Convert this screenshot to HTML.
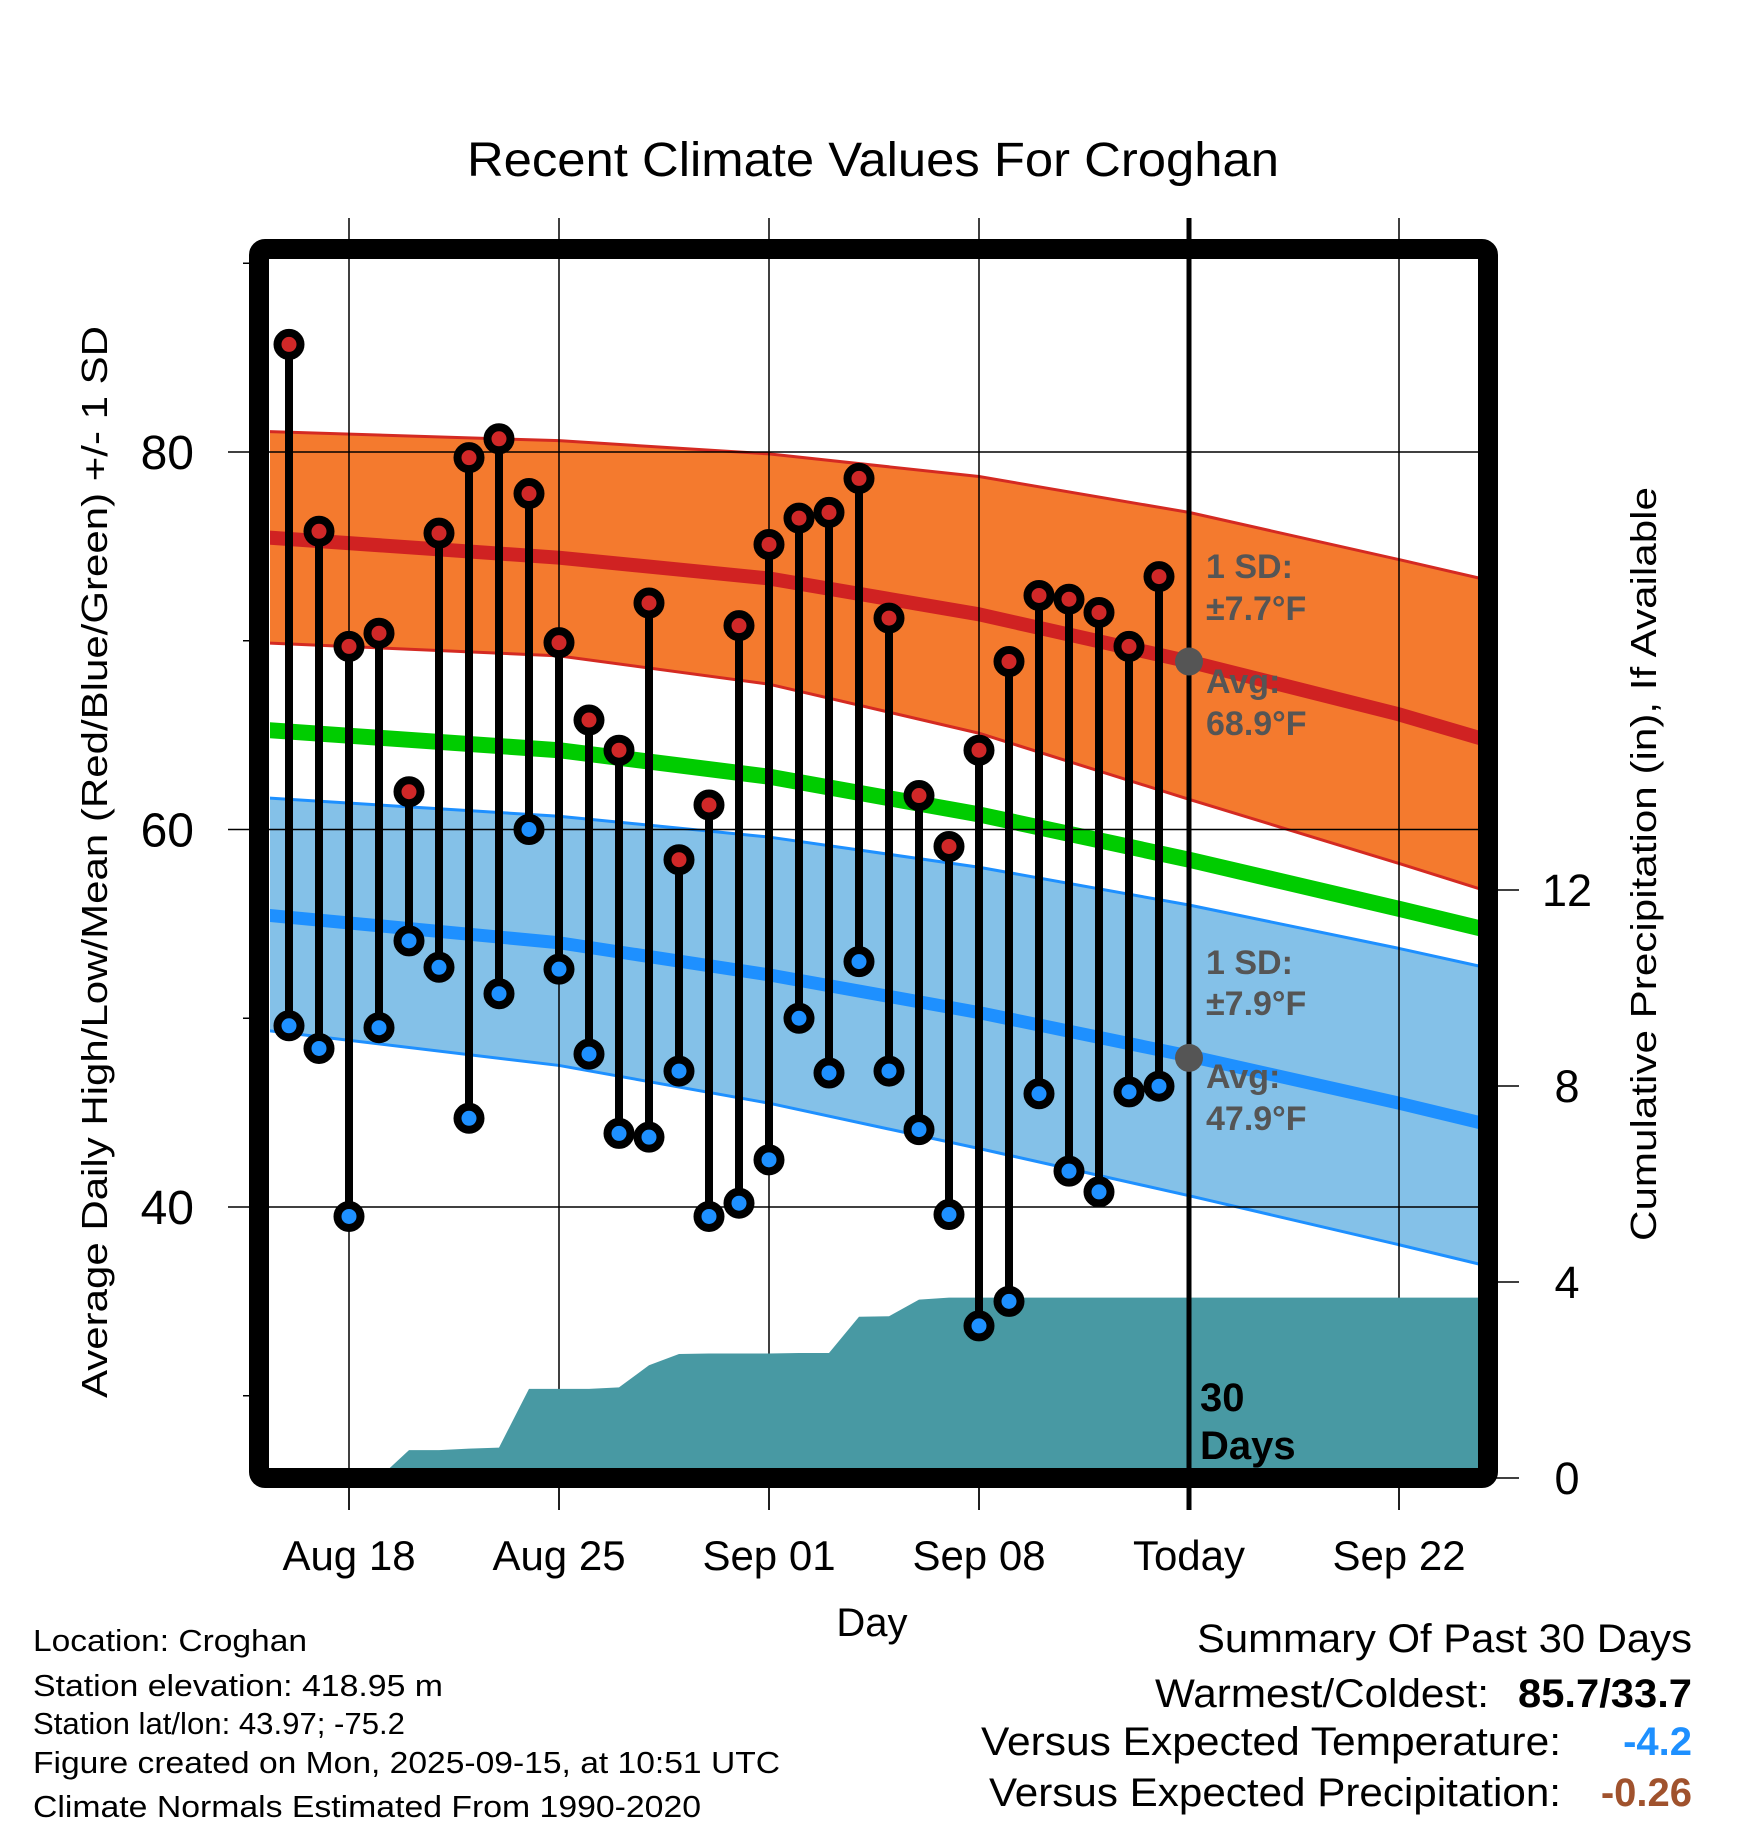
<!DOCTYPE html>
<html><head><meta charset="utf-8">
<style>
html,body{margin:0;padding:0;background:#fff;}
svg{display:block;font-family:"Liberation Sans",Arial,sans-serif;}
</style></head>
<body>
<svg id="chart" width="1748" height="1828" viewBox="0 0 1748 1828" xmlns="http://www.w3.org/2000/svg">
<defs><clipPath id="plotclip"><rect x="270" y="260" width="1208" height="1218"/></clipPath></defs>
<text x="873" y="176" font-size="48" text-anchor="middle" textLength="812" lengthAdjust="spacingAndGlyphs">Recent Climate Values For Croghan</text>
<g id="bands" clip-path="url(#plotclip)"></g>
<g id="axes"></g>
<g id="precipg" clip-path="url(#plotclip)"></g>
<g id="pts"></g>
<rect x="259" y="249" width="1229" height="1229" rx="6" fill="none" stroke="#000" stroke-width="20"/>
<text transform="translate(107,862) rotate(-90)" font-size="36" text-anchor="middle" textLength="1072" lengthAdjust="spacingAndGlyphs">Average Daily High/Low/Mean (Red/Blue/Green) +/- 1 SD</text>
<text transform="translate(1656,864) rotate(-90)" font-size="36" text-anchor="middle" textLength="754" lengthAdjust="spacingAndGlyphs">Cumulative Precipitation (in), If Available</text>
<text x="872" y="1636" font-size="40" text-anchor="middle">Day</text>
<g font-size="31">
<text x="33" y="1651" textLength="274" lengthAdjust="spacingAndGlyphs">Location: Croghan</text>
<text x="33" y="1696" textLength="410" lengthAdjust="spacingAndGlyphs">Station elevation: 418.95 m</text>
<text x="33" y="1734" textLength="372" lengthAdjust="spacingAndGlyphs">Station lat/lon: 43.97; -75.2</text>
<text x="33" y="1773" textLength="747" lengthAdjust="spacingAndGlyphs">Figure created on Mon, 2025-09-15, at 10:51 UTC</text>
<text x="33" y="1817" textLength="668" lengthAdjust="spacingAndGlyphs">Climate Normals Estimated From 1990-2020</text>
</g>
<g font-size="40">
<text x="1692" y="1652" text-anchor="end" textLength="495" lengthAdjust="spacingAndGlyphs">Summary Of Past 30 Days</text>
<text x="1489" y="1707" text-anchor="end" textLength="334" lengthAdjust="spacingAndGlyphs">Warmest/Coldest:</text>
<text x="1692" y="1707" text-anchor="end" font-weight="bold" textLength="174" lengthAdjust="spacingAndGlyphs">85.7/33.7</text>
<text x="1561" y="1755" text-anchor="end" textLength="580" lengthAdjust="spacingAndGlyphs">Versus Expected Temperature:</text>
<text x="1692" y="1755" text-anchor="end" font-weight="bold" fill="#1E90FF">-4.2</text>
<text x="1561" y="1806" text-anchor="end" textLength="572" lengthAdjust="spacingAndGlyphs">Versus Expected Precipitation:</text>
<text x="1692" y="1806" text-anchor="end" font-weight="bold" fill="#A0522D">-0.26</text>
</g>
</svg>
<script>
// ---- data ----
const days = [0,1,2,3,4,5,6,7,8,9,10,11,12,13,14,15,16,17,18,19,20,21,22,23,24,25,26,27,28,29];
const highs = [85.7,75.8,69.7,70.4,62.0,75.7,79.7,80.7,77.8,69.9,65.8,64.2,72.0,58.4,61.3,70.8,75.1,76.5,76.8,78.6,71.2,61.8,59.1,64.2,68.9,72.4,72.2,71.5,69.7,73.4];
const lows = [49.6,48.4,39.5,49.5,54.1,52.7,44.7,51.3,60.0,52.6,48.1,43.9,43.7,47.2,39.5,40.2,42.5,50.0,47.1,53.0,47.2,44.1,39.6,33.7,35.0,46.0,41.9,40.8,46.1,46.4];
const precip = [0,0,0,0,0.57,0.57,0.6,0.62,1.82,1.82,1.82,1.85,2.3,2.53,2.54,2.54,2.54,2.55,2.55,3.29,3.3,3.64,3.68,3.68,3.68,3.68,3.68,3.68,3.68,3.68];
const normDays = [-1,9,16,23,30,37,40];
const normHighMean = [75.5,74.4,73.3,71.4,68.9,66.1,64.7];
const normHighUpper = [81.1,80.6,79.9,78.7,76.8,74.3,73.2];
const normHighLower = [69.9,69.2,67.7,65.1,61.6,58.2,56.7];
const normLowMean = [55.5,54.0,52.3,50.3,48.0,45.5,44.35];
const normLowUpper = [61.7,60.7,59.6,58.0,56.0,53.7,52.65];
const normLowLower = [49.4,47.5,45.5,43.1,40.6,38.0,36.85];
const normMean = [65.3,64.2,62.8,60.8,58.4,55.8,54.65];
const xTickDays = [2,9,16,23,30,37];
const xTickLabels = ["Aug 18","Aug 25","Sep 01","Sep 08","Today","Sep 22"];
const yTicks = [80,60,40];
const yMinor = [90,70,50,30];
const pTicks = [0,4,8,12];
const todayIdx = 30;
const avgHighToday = 68.9, avgLowToday = 47.9;

// ---- scales ----
const X = d => 289 + 30*d;
const Y = t => 452 + (80 - t)*18.875;
const P = p => 1478 - 49*p;
const NS = "http://www.w3.org/2000/svg";
function mk(tag, attrs, parent){const e=document.createElementNS(NS,tag);for(const k in attrs)e.setAttribute(k,attrs[k]);parent.appendChild(e);return e;}
const bands=document.getElementById('bands'), axes=document.getElementById('axes'), pg=document.getElementById('precipg'), pts=document.getElementById('pts');
const line = arr => normDays.map((d,i)=>X(d)+','+Y(arr[i])).join(' ');
const band = (up,lo) => normDays.map((d,i)=>X(d)+','+Y(up[i])).join(' ')+' '+normDays.map((d,i)=>i).reverse().map(i=>X(normDays[i])+','+Y(lo[i])).join(' ');

let e;
e=mk('polygon',{points:band(normHighUpper,normHighLower),fill:'#F47A2E'},bands);


e=mk('polygon',{points:band(normLowUpper,normLowLower),fill:'#84C1E8'},bands);


[[normHighUpper,'#D42A22',3,'high-sd-upper'],[normHighLower,'#D42A22',3,'high-sd-lower'],[normHighMean,'#D02222',14,'high-mean-line'],
 [normLowUpper,'#1E90FF',3,'low-sd-upper'],[normLowLower,'#1E90FF',3,'low-sd-lower'],[normLowMean,'#1E90FF',13,'low-mean-line'],[normMean,'#00CC00',16,'mean-line']].forEach(s=>{
  const l=mk('polyline',{points:line(s[0]),fill:'none',stroke:s[1],'stroke-width':s[2],'stroke-linejoin':'round'},bands);
  
  
});
// gridlines
xTickDays.forEach((d,i)=>{
  if(d===todayIdx) return;
  const g=mk('line',{x1:X(d),x2:X(d),y1:218,y2:1510,stroke:'#000','stroke-width':1.5},axes);
  
  
});
yTicks.forEach(t=>{
  const g=mk('line',{x1:228,x2:1478,y1:Y(t),y2:Y(t),stroke:'#000','stroke-width':1.5},axes);
  
  
  const tx=mk('text',{x:194,y:Y(t)+17,'font-size':48,'text-anchor':'end'},axes);
  tx.textContent=t;
  
  
});
yMinor.forEach(t=>{
  const g=mk('line',{x1:243,x2:252,y1:Y(t),y2:Y(t),stroke:'#000','stroke-width':1.5},axes);
  
  
});
pTicks.forEach(p=>{
  const g=mk('line',{x1:1496,x2:1519,y1:P(p),y2:P(p),stroke:'#000','stroke-width':1.5},axes);
  
  
  const tx=mk('text',{x:1567,y:P(p)+16,'font-size':45,'text-anchor':'middle'},axes);
  tx.textContent=p;
  
  
});
xTickDays.forEach((d,i)=>{
  const tx=mk('text',{x:X(d),y:1570,'font-size':42,'text-anchor':'middle'},axes);
  tx.textContent=xTickLabels[i];
  
  
  const t=mk('line',{x1:X(d),x2:X(d),y1:1488,y2:1510,stroke:'#000','stroke-width':1.5},axes);
  
  
});
// precipitation area
let pp=X(-1)+','+P(0)+' ';
days.forEach((d,i)=>{pp+=X(d)+','+P(precip[i])+' ';});
pp+=X(41)+','+P(precip[precip.length-1])+' '+X(41)+','+P(0)+' ';
e=mk('polygon',{points:pp,fill:'#4899A3'},pg);


// today line
e=mk('line',{x1:X(todayIdx),x2:X(todayIdx),y1:218,y2:1510,stroke:'#000','stroke-width':5},pts);


// annotations
const ann=[["1 SD:",1206,578],["\u00B17.7\u00B0F",1206,620],["Avg:",1206,693],["68.9\u00B0F",1206,735],["1 SD:",1206,974],["\u00B17.9\u00B0F",1206,1015],["Avg:",1206,1088],["47.9\u00B0F",1206,1130]];
ann.forEach(a=>{
  const tx=mk('text',{x:a[1],y:a[2],'font-size':34,'font-weight':'bold',fill:'#555'},pts);
  tx.textContent=a[0];
  
  
});
[avgHighToday,avgLowToday].forEach(v=>{
  const c=mk('circle',{cx:X(todayIdx),cy:Y(v),r:14,fill:'#555'},pts);
  
  
});
e=mk('text',{x:1200,y:1411,'font-size':40,'font-weight':'bold'},pts);e.textContent='30';


e=mk('text',{x:1200,y:1459,'font-size':40,'font-weight':'bold'},pts);e.textContent='Days';


// stems and markers
days.forEach((d,i)=>{
  const s=mk('line',{x1:X(d),x2:X(d),y1:Y(highs[i]),y2:Y(lows[i]),stroke:'#000','stroke-width':8},pts);
  
  
});
days.forEach((d,i)=>{
  const h=mk('circle',{cx:X(d),cy:Y(highs[i]),r:11.5,fill:'#D02828',stroke:'#000','stroke-width':8},pts);
  
  
  const l=mk('circle',{cx:X(d),cy:Y(lows[i]),r:11.5,fill:'#1E90FF',stroke:'#000','stroke-width':8},pts);
  
  
});
</script>
</body></html>
